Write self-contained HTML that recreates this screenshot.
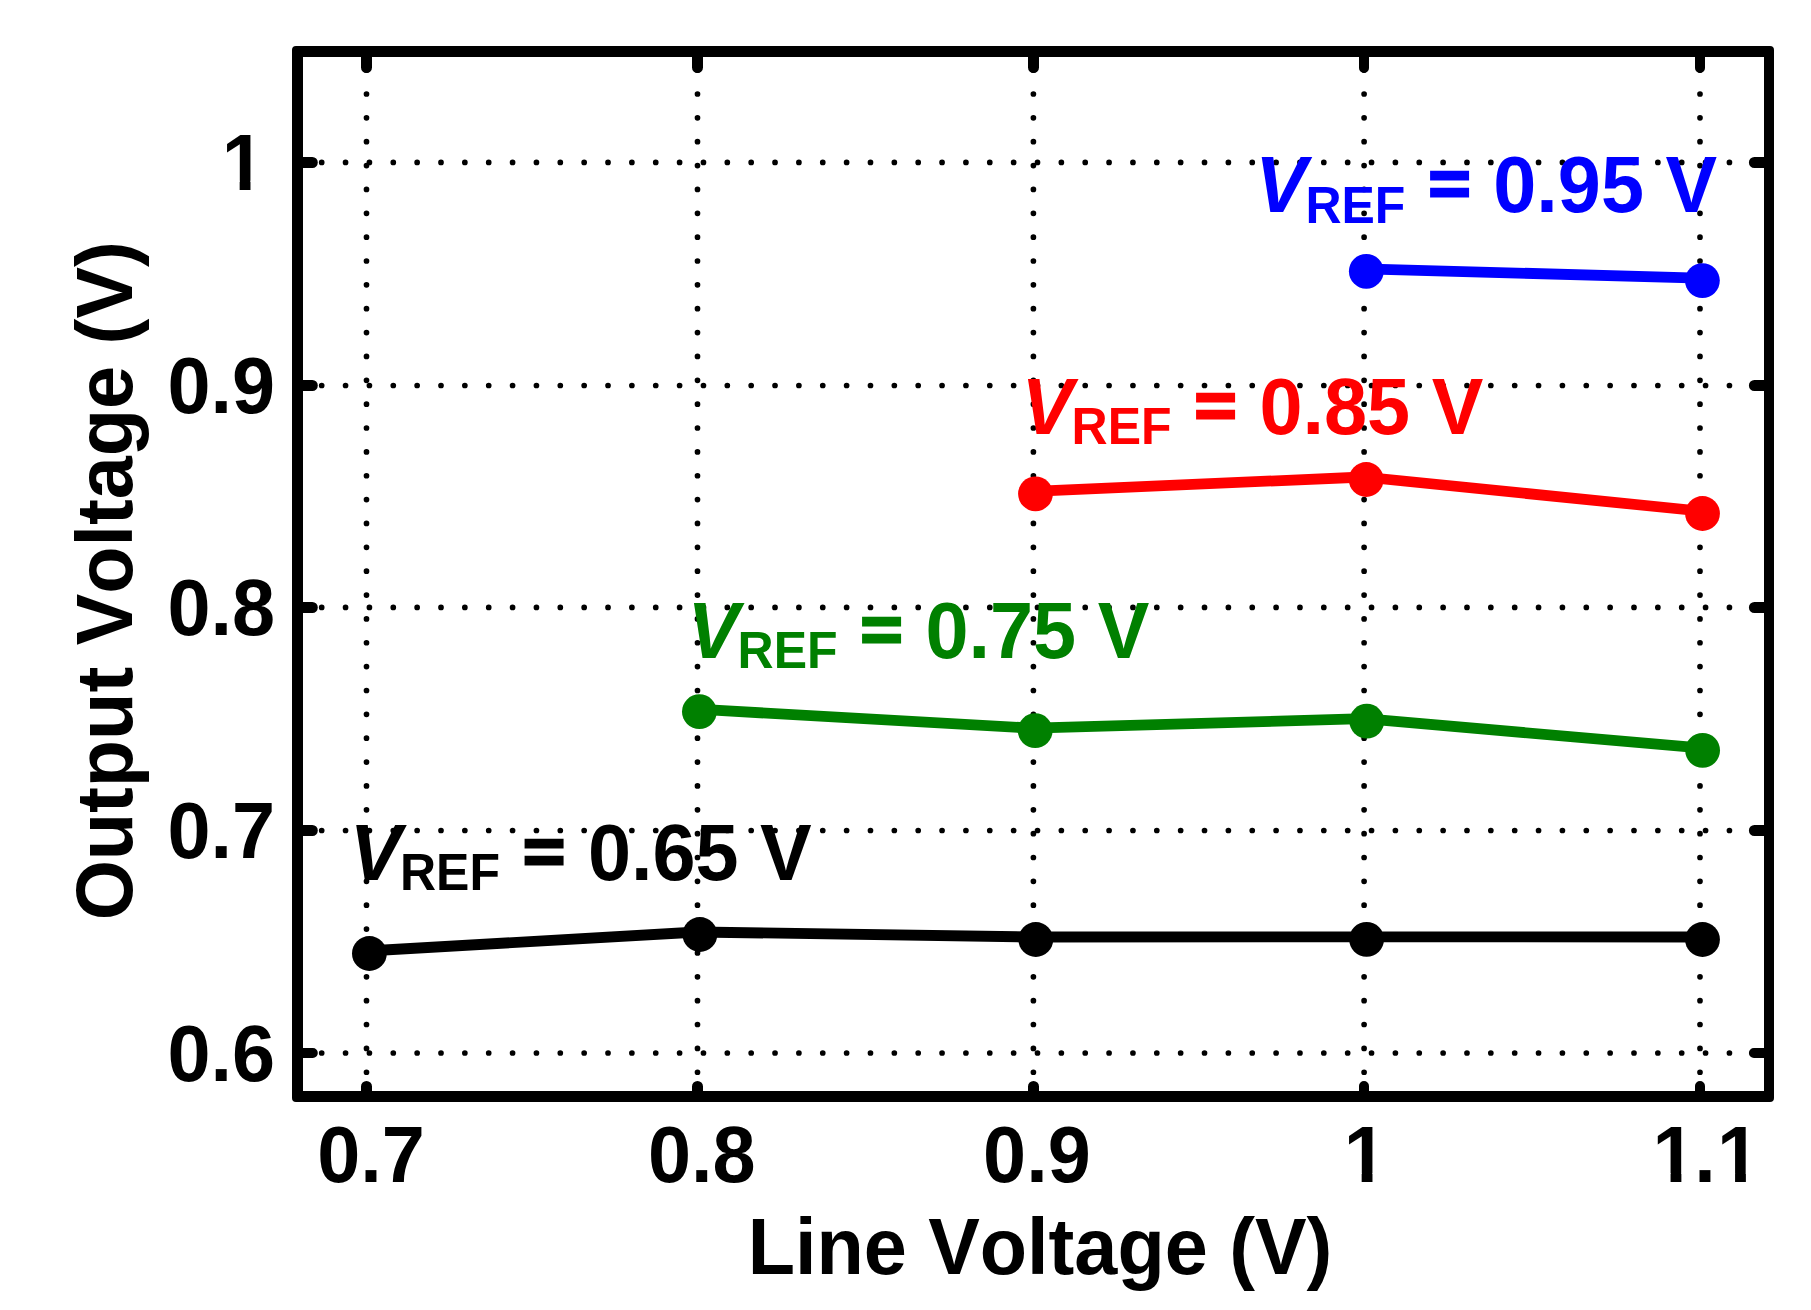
<!DOCTYPE html>
<html lang="en"><head><meta charset="utf-8"><title>Output Voltage vs Line Voltage</title>
<style>html,body{margin:0;padding:0;background:#fff}body{width:1811px;height:1310px;overflow:hidden}svg{display:block}text{font-family:"Liberation Sans",Arial,Helvetica,sans-serif;font-weight:bold;font-kerning:none;font-size:77.4px}.i{font-style:italic}.s{font-size:50.0px}</style></head><body>
<svg width="1811" height="1310" viewBox="0 0 1811 1310">
<defs><clipPath id="c1"><path d="M-3.00 -62H46.00V-8.60H28.78V2H17.97V-8.60H-3.00Z"/></clipPath>
<clipPath id="c11"><path d="M-3.00 -62H46.00V-8.60H28.78V2H17.97V-8.60H-3.00Z M43.5 -16H60V2H43.5Z M61.50 -62H110.50V-8.60H93.28V2H82.47V-8.60H61.50Z"/></clipPath></defs>
<rect width="1811" height="1310" fill="#fff"/>
<g stroke="#000" stroke-width="5.7" stroke-linecap="round" stroke-dasharray="0 23.86" fill="none">
<path d="M321.7 162.4 H1758"/>
<path d="M321.7 385.5 H1758"/>
<path d="M321.7 607.4 H1758"/>
<path d="M321.7 830.5 H1758"/>
<path d="M321.7 1053.0 H1758"/>
<path d="M366.5 1072.24 V63"/>
<path d="M697.5 1072.24 V63"/>
<path d="M1033.4 1072.24 V63"/>
<path d="M1364.1 1072.24 V63"/>
<path d="M1700.0 1072.24 V63"/>
</g>
<polyline fill="none" stroke="#000" stroke-width="10.8" stroke-linejoin="round" points="366.9,951.0 697.4,932.0 1033.3,937.0 1364.1,936.9 1700.0,937.0"/>
<g fill="#000"><circle cx="369.4" cy="953.5" r="17.4"/><circle cx="699.9" cy="934.5" r="17.4"/><circle cx="1035.8" cy="939.5" r="17.4"/><circle cx="1366.6" cy="939.4" r="17.4"/><circle cx="1702.5" cy="939.5" r="17.4"/></g>
<polyline fill="none" stroke="#008000" stroke-width="10.8" stroke-linejoin="round" points="696.9,709.2 1032.7,728.2 1364.3,718.7 1700.1,747.9"/>
<g fill="#008000"><circle cx="699.4" cy="711.7" r="17.4"/><circle cx="1035.2" cy="730.7" r="17.4"/><circle cx="1366.8" cy="721.2" r="17.4"/><circle cx="1702.6" cy="750.4" r="17.4"/></g>
<polyline fill="none" stroke="#f00" stroke-width="10.8" stroke-linejoin="round" points="1033.0,491.3 1363.7,477.0 1700.0,511.0"/>
<g fill="#f00"><circle cx="1035.5" cy="493.8" r="17.4"/><circle cx="1366.2" cy="479.5" r="17.4"/><circle cx="1702.5" cy="513.5" r="17.4"/></g>
<polyline fill="none" stroke="#00f" stroke-width="10.8" stroke-linejoin="round" points="1363.8,268.8 1699.9,278.1"/>
<g fill="#00f"><circle cx="1366.3" cy="271.3" r="17.4"/><circle cx="1702.4" cy="280.6" r="17.4"/></g>
<path fill="#000" fill-rule="evenodd" d="M292 50Q292 46 296 46H1770Q1774 46 1774 50V1098Q1774 1102 1770 1102H296Q292 1102 292 1098Z M303 57H1764V1091H303Z"/>
<g stroke="#000" stroke-linecap="round" fill="none">
<path stroke-width="11" d="M366.5 53V67.5 M366.5 1095V1086.5"/>
<path stroke-width="11" d="M697.5 53V67.5 M697.5 1095V1086.5"/>
<path stroke-width="11" d="M1033.5 53V67.5 M1033.5 1095V1086.5"/>
<path stroke-width="10" d="M1364.0 53V68.0 M1364.0 1095V1086.0"/>
<path stroke-width="10" d="M1700.0 53V68.0 M1700.0 1095V1086.0"/>
<path stroke-width="11" d="M299 162.5H312.3 M1768 162.5H1754.4"/>
<path stroke-width="11" d="M299 385.5H312.3 M1768 385.5H1754.4"/>
<path stroke-width="11" d="M299 607.5H312.3 M1768 607.5H1754.4"/>
<path stroke-width="11" d="M299 830.5H312.3 M1768 830.5H1754.4"/>
<path stroke-width="10" d="M299 1053.0H312.8 M1768 1053.0H1753.9"/>
</g>
<g fill="#000">
<text transform="translate(371 1182) scale(1 1.04)" text-anchor="middle">0.7</text>
<text transform="translate(701.7 1182) scale(1 1.04)" text-anchor="middle">0.8</text>
<text transform="translate(1036.9 1182) scale(1 1.04)" text-anchor="middle">0.9</text>
<text transform="translate(1343.7 1182) scale(1 1.04)" clip-path="url(#c1)">1</text>
<text transform="translate(1652.6 1182) scale(1 1.04)" clip-path="url(#c11)" x="0 41.6 64.5">1.1</text>
<text transform="translate(221.7 189.8) scale(1 1.04)" clip-path="url(#c1)">1</text>
<text transform="translate(275 413.2) scale(1 1.04)" text-anchor="end">0.9</text>
<text transform="translate(275 635.1) scale(1 1.04)" text-anchor="end">0.8</text>
<text transform="translate(275 858.2) scale(1 1.04)" text-anchor="end">0.7</text>
<text transform="translate(275 1080.7) scale(1 1.04)" text-anchor="end">0.6</text>
<text transform="translate(1040 1274.1) scale(1 1.03)" text-anchor="middle">Line Voltage (V)</text>
<text transform="translate(131.8 580.8) rotate(-90) scale(1 1.03)" text-anchor="middle">Output Voltage (V)</text>
</g>
<g fill="#00f">
<text transform="translate(1255.2 212.4) scale(1 1.04)"><tspan class="i">V</tspan><tspan class="s" dx="-1.4" dy="9.9">REF</tspan></text>
<text transform="translate(1428.67 205.38) scale(0.921 0.8165)" stroke="#00f" stroke-width="3.54">=</text>
<text transform="translate(1493.3 212.4) scale(1 1.04)">0.95 V</text>
</g>
<g fill="#f00">
<text transform="translate(1021.4 433.8) scale(1 1.04)"><tspan class="i">V</tspan><tspan class="s" dx="-1.4" dy="9.9">REF</tspan></text>
<text transform="translate(1194.87 426.78) scale(0.921 0.8165)" stroke="#f00" stroke-width="3.54">=</text>
<text transform="translate(1259.5 433.8) scale(1 1.04)">0.85 V</text>
</g>
<g fill="#008000">
<text transform="translate(687.4 657.9) scale(1 1.04)"><tspan class="i">V</tspan><tspan class="s" dx="-1.4" dy="9.9">REF</tspan></text>
<text transform="translate(860.87 650.88) scale(0.921 0.8165)" stroke="#008000" stroke-width="3.54">=</text>
<text transform="translate(925.5 657.9) scale(1 1.04)">0.75 V</text>
</g>
<g fill="#000">
<text transform="translate(349.8 880) scale(1 1.04)"><tspan class="i">V</tspan><tspan class="s" dx="-1.4" dy="9.9">REF</tspan></text>
<text transform="translate(523.27 872.98) scale(0.921 0.8165)" stroke="#000" stroke-width="3.54">=</text>
<text transform="translate(587.9 880) scale(1 1.04)">0.65 V</text>
</g>
</svg></body></html>
